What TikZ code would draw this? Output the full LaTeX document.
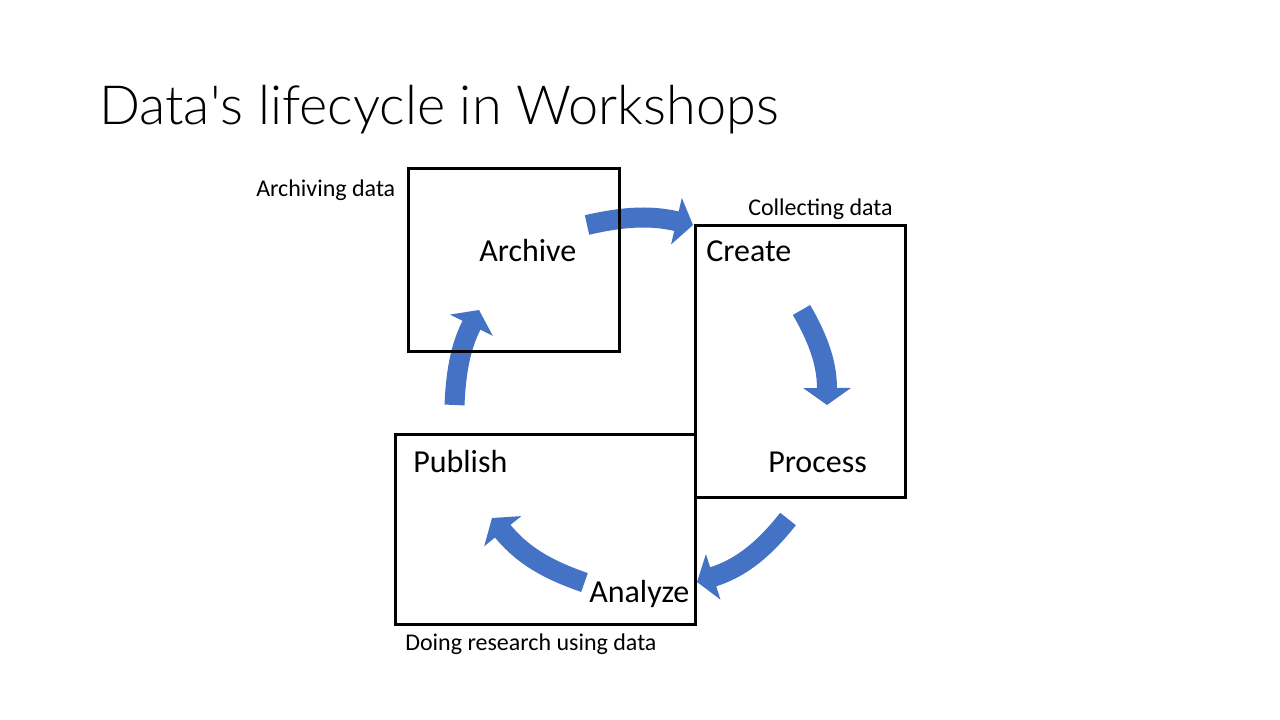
\documentclass[tikz,border=0pt]{standalone}
\usepackage{fontspec}
\setmainfont{Carlito}
\newfontfamily\titlefont{Lato Light}
\usetikzlibrary{arrows.meta,backgrounds}
\definecolor{cycleblue}{HTML}{4472C4}

\begin{document}
\begin{tikzpicture}[
    x=0.75pt, y=-0.75pt,
    titletext/.style={anchor=base west, inner sep=0pt,
                      font=\titlefont\fontsize{40.5}{48}\selectfont},
    stagebox/.style={draw=black, line width=2.25pt, inner sep=0pt},
    stagetext/.style={anchor=base west, inner sep=0pt,
                      font=\fontsize{24}{29}\selectfont},
    notetext/.style={anchor=base west, inner sep=0pt,
                     font=\fontsize{18}{22}\selectfont},
    cyclearrow/.style={draw=cycleblue, line width=15pt,
                       -{Triangle[length=12.75pt, width=35.25pt]}}
]
\useasboundingbox (0,0) rectangle (1280,720);

\node[titletext] (title) at (99,125) {Data\textquotesingle s lifecycle in Workshops};

\node[stagebox, minimum width=158.25pt, minimum height=136.5pt]  (archivebox) at (513.5,260) {};
\node[stagebox, minimum width=157.5pt,  minimum height=203.25pt] (createbox)  at (800,361.5) {};
\node[stagebox, minimum width=225pt,    minimum height=142.5pt]  (publishbox) at (545,529) {};

\node[stagetext] (archive) at (479,261) {Archive};
\node[stagetext] (create)  at (706,262) {Create};
\node[stagetext] (process) at (768,472) {Process};
\node[stagetext] (publish) at (413,472) {Publish};
\node[stagetext] (analyze) at (589,602) {Analyze};

\node[notetext] (archiving)  at (256,197) {Archiving data};
\node[notetext] (collecting) at (748,215) {Collecting data};
\node[notetext] (research)   at (405,650) {Doing research using data};

\coordinate (toCreateA)  at (587,225);
\coordinate (toCreateB)  at (693,225);
\coordinate (toProcessA) at (801.5,310);
\coordinate (toProcessB) at (827,405);
\coordinate (toAnalyzeA) at (788,519);
\coordinate (toAnalyzeB) at (697,582);
\coordinate (toPublishA) at (584.5,582.5);
\coordinate (toPublishB) at (492,518);
\coordinate (toArchiveA) at (454.5,405);
\coordinate (toArchiveB) at (479,310);

\begin{scope}[on background layer]
  \draw[cyclearrow] (toCreateA)  to[bend left=13] (toCreateB);
  \draw[cyclearrow] (toProcessA) to[bend left=15] (toProcessB);
  \draw[cyclearrow] (toAnalyzeA) to[bend left=17] (toAnalyzeB);
  \draw[cyclearrow] (toPublishA) to[bend left=16] (toPublishB);
  \draw[cyclearrow] (toArchiveA) to[bend left=12] (toArchiveB);
\end{scope}

\end{tikzpicture}
\end{document}
